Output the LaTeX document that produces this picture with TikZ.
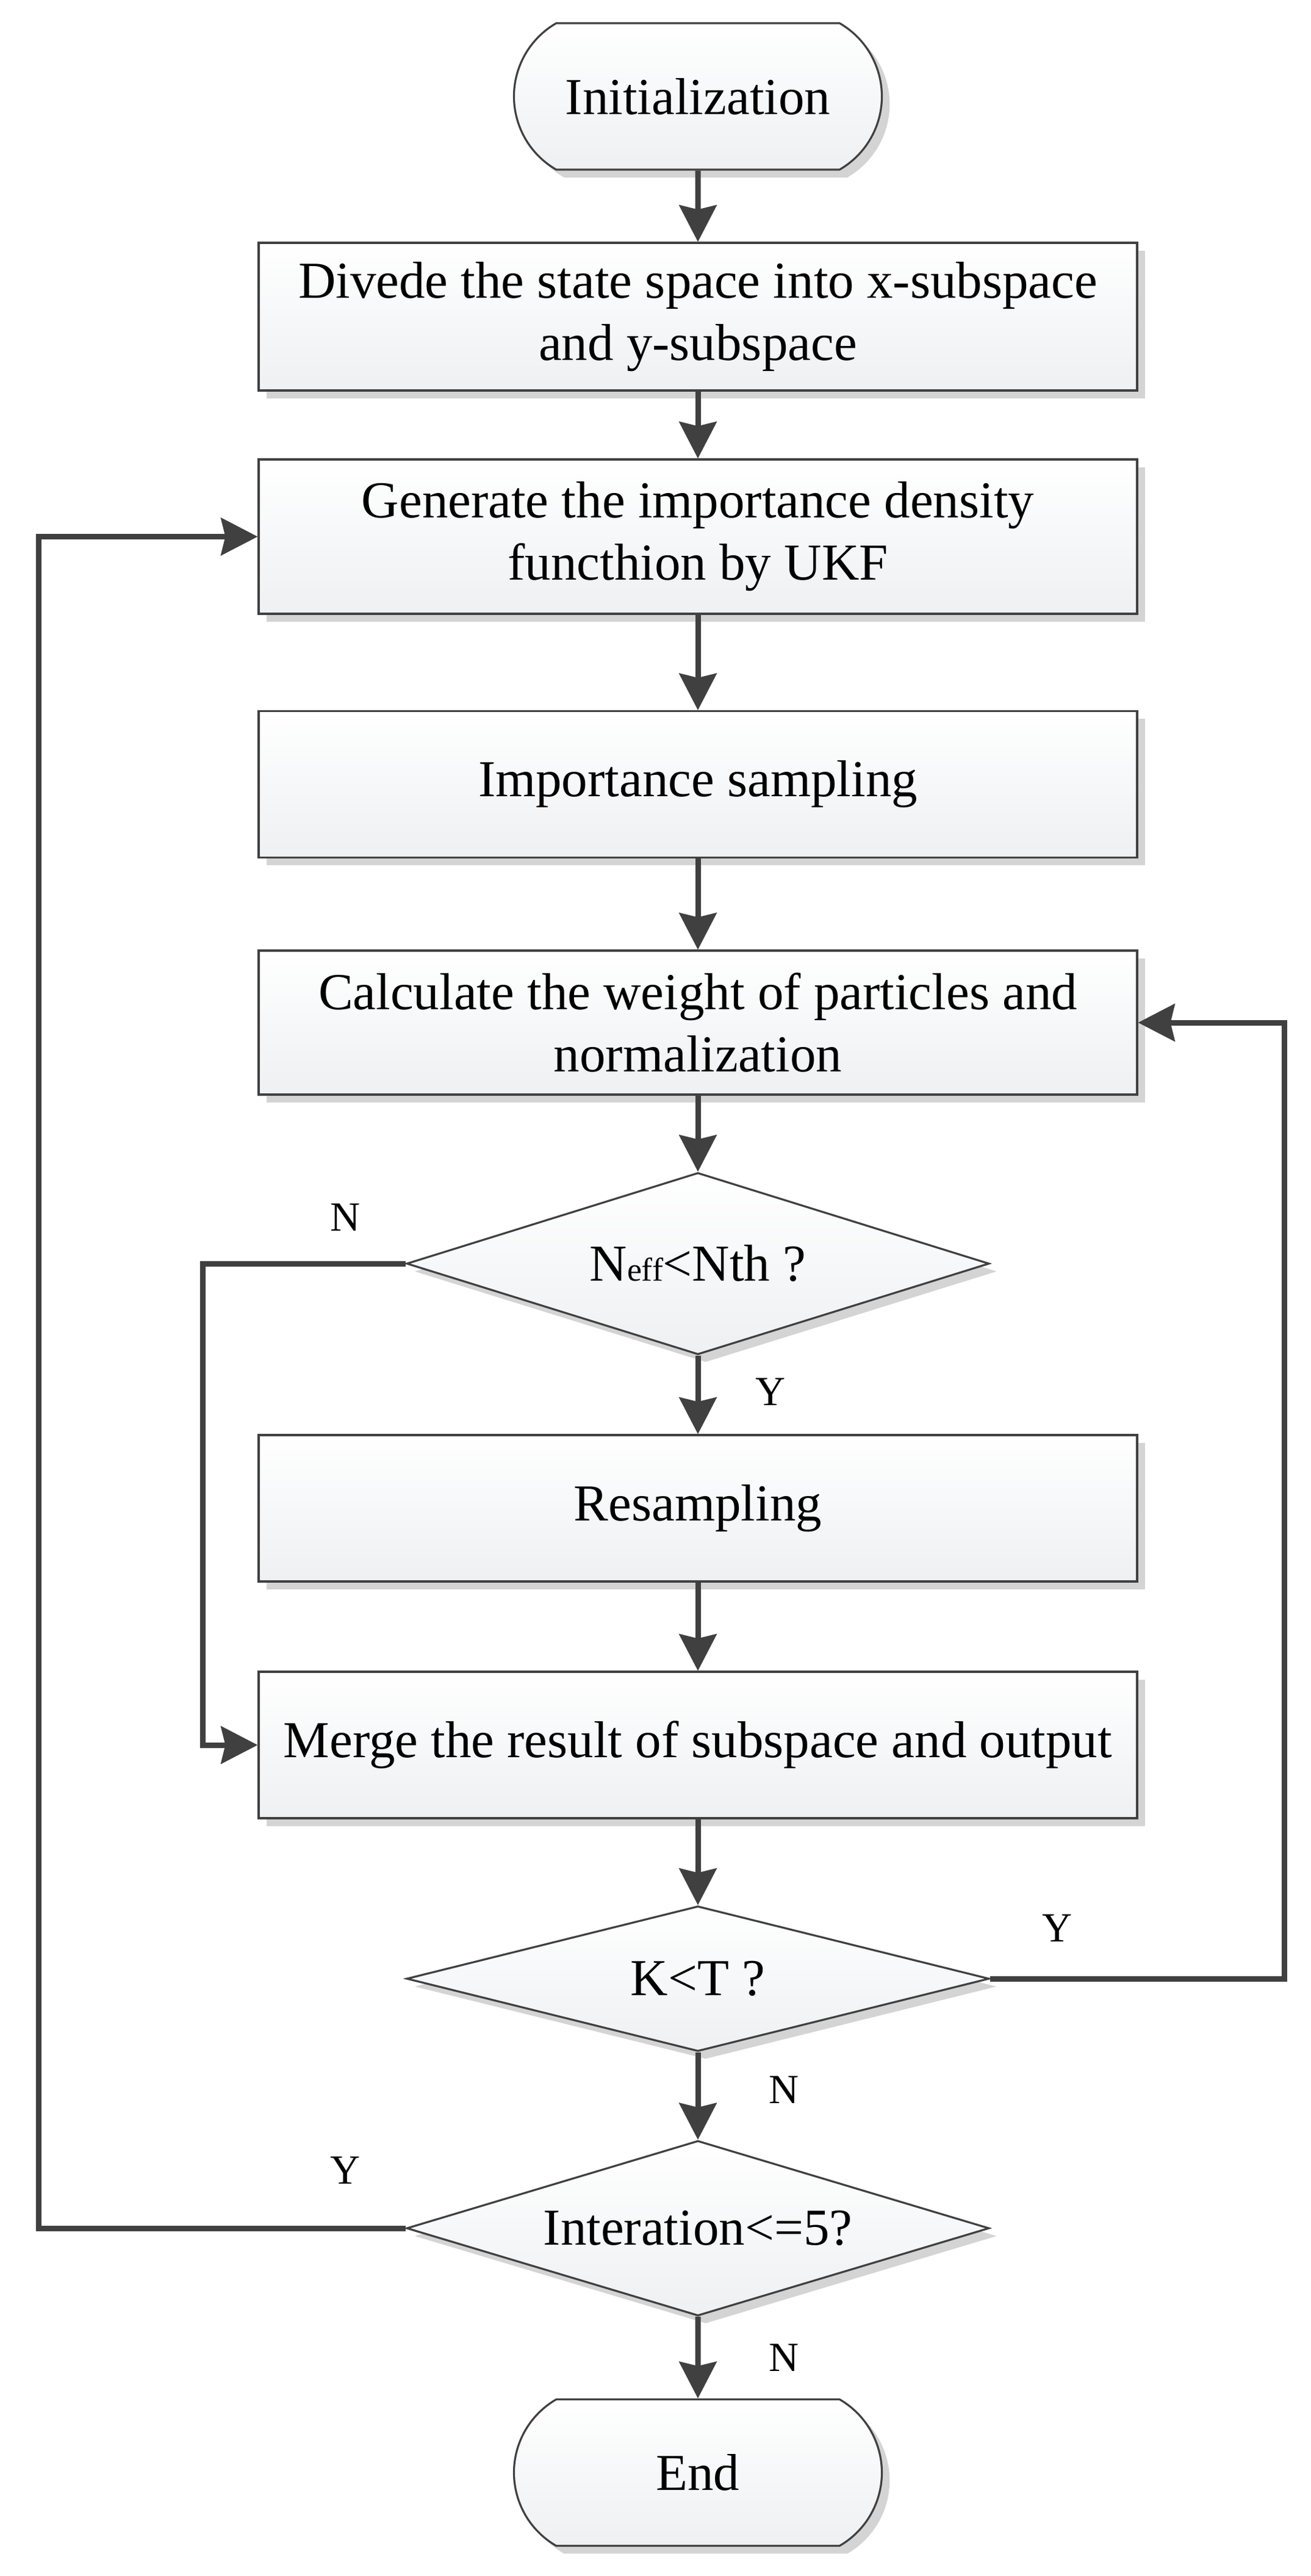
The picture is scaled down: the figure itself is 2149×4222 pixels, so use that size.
\documentclass[tikz,border=0pt]{standalone}
\usepackage{fontspec}
\setmainfont{Liberation Serif}
\usetikzlibrary{shapes.geometric,shapes.misc,shadows,arrows.meta}
\definecolor{linecol}{HTML}{404040}
\definecolor{fillbot}{HTML}{EEF0F2}
\definecolor{shadowcol}{HTML}{D4D4D4}
\begin{document}
\begin{tikzpicture}[x=0.25pt,y=-0.25pt,
  base/.style={draw=linecol, line width=0.8pt, top color=white, bottom color=fillbot,
    drop shadow={shadow xshift=3.2pt, shadow yshift=-3.2pt, fill=shadowcol, opacity=1},
    font=\fontsize{21.25}{25.5}\selectfont, align=center, inner sep=0pt, text=black},
  procbox/.style={base, rectangle, minimum width=360pt},
  termbox/.style={base, rounded rectangle, rounded rectangle arc length=120, minimum width=150.75pt, minimum height=60pt},
  decbox/.style={base, diamond, minimum width=238.75pt, aspect=3.2},
  flow/.style={draw=linecol, line width=2.25pt, -{Stealth[length=15pt, width=15.25pt, inset=1.75pt]}},
  flowline/.style={draw=linecol, line width=2.25pt},
  lbl/.style={font=\fontsize{17}{20}\selectfont, inner sep=0pt, text=black}
]
\useasboundingbox (0,0) rectangle (2149,4222);

\node[termbox] (init) at (1144,158) {Initialization};
\node[procbox, minimum height=60.5pt] (divide) at (1144,519) {Divede the state space into x-subspace\\and y-subspace};
\node[procbox, minimum height=63.25pt] (gen) at (1144,879.5) {Generate the importance density\\functhion by UKF};
\node[procbox, minimum height=60pt] (samp) at (1144,1285.5) {Importance sampling};
\node[procbox, minimum height=59pt] (calc) at (1144,1676) {Calculate the weight of particles and\\normalization};
\node[decbox, minimum height=74.5pt] (neff) at (1144,2071) {N{\fontsize{13.5}{15}\selectfont eff}<Nth ?};
\node[procbox, minimum height=60pt] (resamp) at (1144,2472) {Resampling};
\node[procbox, minimum height=60pt] (merge) at (1144,2860) {Merge the result of subspace and output};
\node[decbox, minimum height=59.5pt] (kt) at (1144,3243) {K<T ?};
\node[decbox, minimum height=71.75pt] (iter) at (1144,3652) {Interation<=5?};
\node[termbox] (end) at (1144,4052.5) {End};

\coordinate (nl) at (332,2071);
\coordinate (ll) at (63,3652);
\coordinate (rl) at (2105,3243);

\draw[flow] (init) -- (divide);
\draw[flow] (divide) -- (gen);
\draw[flow] (gen) -- (samp);
\draw[flow] (samp) -- (calc);
\draw[flow] (calc) -- (neff);
\draw[flow] (neff) -- (resamp);
\draw[flow] (resamp) -- (merge);
\draw[flow] (merge) -- (kt);
\draw[flow] (kt) -- (iter);
\draw[flow] (iter) -- (end);
\draw[flow] (neff.west) -- (nl) |- (merge.west);
\draw[flow] (iter.west) -- (ll) |- (gen.west);
\draw[flow] (kt.east) -- (rl) |- (calc.east);

\node[lbl] (l1) at (566,1995) {N};
\node[lbl] (l2) at (1263,2281) {Y};
\node[lbl] (l3) at (1733,3160) {Y};
\node[lbl] (l4) at (1285,3425) {N};
\node[lbl] (l5) at (566,3557) {Y};
\node[lbl] (l6) at (1285,3864) {N};
\end{tikzpicture}
\end{document}
